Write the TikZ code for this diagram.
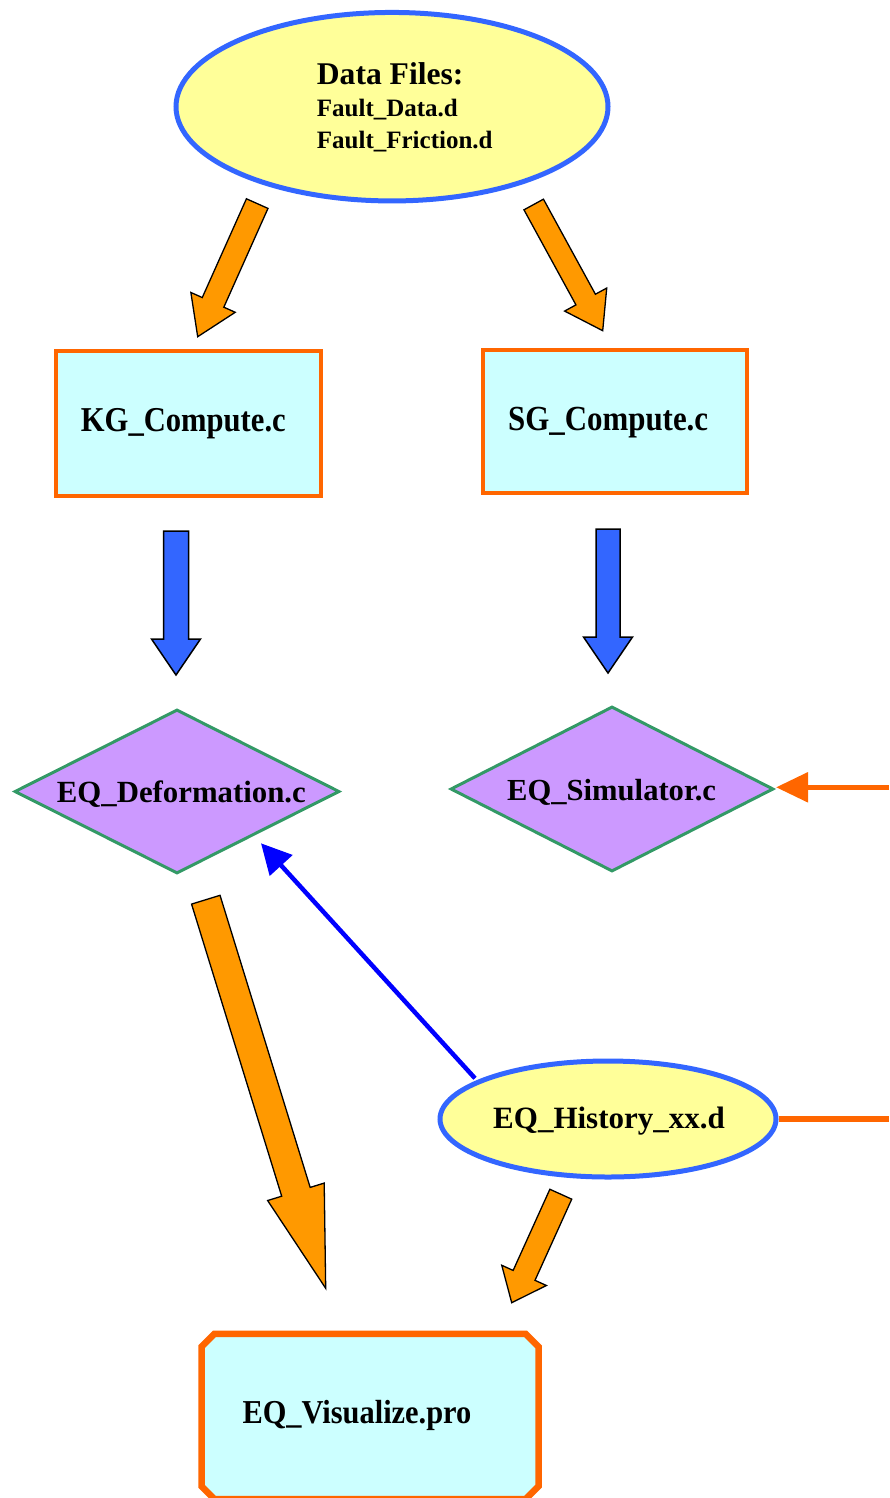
\documentclass[tikz,border=0pt]{standalone}
\usepackage{fontspec}
\setmainfont{Liberation Serif}
\usetikzlibrary{calc,shapes.geometric,arrows.meta}
\definecolor{ellfill}{HTML}{FFFF99}
\definecolor{ellline}{HTML}{3366FF}
\definecolor{boxfill}{HTML}{CCFFFF}
\definecolor{boxline}{HTML}{FF6600}
\definecolor{arrfill}{HTML}{FF9900}
\definecolor{diafill}{HTML}{CC99FF}
\definecolor{dialine}{HTML}{339966}
\definecolor{pureblue}{HTML}{0000FF}
\newcommand\blockarrow[6]{%
  \coordinate (ba-b) at ($(#2)!#5!(#1)$);
  \filldraw[#6] ($(#1)!#3!90:(#2)$) -- ($(ba-b)!#3!90:(#2)$) -- ($(ba-b)!#4!90:(#2)$) -- (#2)
     -- ($(ba-b)!#4!-90:(#2)$) -- ($(ba-b)!#3!-90:(#2)$) -- ($(#1)!#3!-90:(#2)$) -- cycle;}
\tikzset{
  ell/.style={ellipse, draw=ellline, fill=ellfill, line width=5pt, inner sep=0pt},
  pbox/.style={rectangle, draw=boxline, fill=boxfill, line width=4pt, inner sep=0pt},
  dia/.style={diamond, draw=dialine, fill=diafill, line width=3pt, inner sep=0pt},
  txt/.style={anchor=base west, inner sep=0pt, font=\bfseries},
  orarrow/.style={fill=arrfill, draw=black, line width=1.3pt, line join=miter},
  blarrow/.style={fill=ellline, draw=black, line width=1.5pt, line join=miter},
  orline/.style={draw=boxline, line width=5.5pt},
  chamf/.style={draw=boxline, fill=boxfill, line width=6.5pt, line join=miter},
}
\begin{document}
\begin{tikzpicture}[x=1pt,y=-1pt]
\useasboundingbox (0,0) rectangle (889,1498);
% shapes
\node[ell, minimum width=432pt, minimum height=188.5pt] (data) at (392,106.7) {};
\node[pbox, minimum width=265.3pt, minimum height=144.7pt] (kg) at (188.7,423.5) {};
\node[pbox, minimum width=264pt, minimum height=143pt] (sg) at (615,421.5) {};
\node[dia, minimum width=325pt, minimum height=164pt] (def) at (177,791.5) {};
\node[dia, minimum width=323pt, minimum height=165pt] (sim) at (612,789) {};
\node[ell, minimum width=336pt, minimum height=116pt] (hist) at (608,1119) {};
\node[rectangle, inner sep=0pt, minimum width=336.6pt, minimum height=165pt] (vis) at (370,1416.5) {};
\draw[chamf] ($(vis.north west)+(13,0)$) -- ($(vis.north east)+(-13,0)$) -- ($(vis.north east)+(0,13)$)
  -- ($(vis.south east)+(0,-13)$) -- ($(vis.south east)+(-13,0)$) -- ($(vis.south west)+(13,0)$)
  -- ($(vis.south west)+(0,-13)$) -- ($(vis.north west)+(0,13)$) -- cycle;
% texts
\node[txt, font=\fontsize{31.6}{36}\selectfont\bfseries] (t1) at (316.7,85) {Data Files:};
\node[txt, font=\fontsize{25}{30}\selectfont\bfseries] (t2) at (316.7,116.7) {Fault\_Data.d};
\node[txt, font=\fontsize{25}{30}\selectfont\bfseries] (t3) at (316.7,149) {Fault\_Friction.d};
\node[txt, font=\fontsize{30.6}{36}\selectfont\bfseries] (kgt) at (80.7,431.7) {\scalebox{1}[1.14]{KG\_Compute.c}};
\node[txt, font=\fontsize{30.9}{36}\selectfont\bfseries] (sgt) at (508,430.5) {\scalebox{1}[1.14]{SG\_Compute.c}};
\node[txt, font=\fontsize{30.8}{36}\selectfont\bfseries] (deft) at (56.7,802.7) {EQ\_Deformation.c};
\node[txt, font=\fontsize{30.6}{36}\selectfont\bfseries] (simt) at (507,800) {EQ\_Simulator.c};
\node[txt, font=\fontsize{31}{36}\selectfont\bfseries] (histt) at (493,1128) {EQ\_History\_xx.d};
\node[txt, font=\fontsize{30.4}{36}\selectfont\bfseries] (vist) at (242.3,1423.3) {\scalebox{1}[1.1]{EQ\_Visualize.pro}};
% block arrows
\coordinate (a1t) at (257.2,203.6); \coordinate (a1h) at (197.7,336.7);
\coordinate (a2t) at (533.7,204.5); \coordinate (a2h) at (602.7,330.7);
\coordinate (b1t) at (176,531);     \coordinate (b1h) at (176,675);
\coordinate (b2t) at (608,529);     \coordinate (b2h) at (608,673);
\coordinate (a3t) at (205.8,899.7); \coordinate (a3h) at (325.7,1288.3);
\coordinate (a4t) at (560.8,1194.2);\coordinate (a4h) at (511.7,1302.7);
\blockarrow{a1t}{a1h}{11.8pt}{24.3pt}{37.6pt}{orarrow}
\blockarrow{a2t}{a2h}{11.1pt}{24pt}{35.5pt}{orarrow}
\blockarrow{b1t}{b1h}{12.5pt}{24.5pt}{36pt}{blarrow}
\blockarrow{b2t}{b2h}{12pt}{24.5pt}{36pt}{blarrow}
\blockarrow{a3t}{a3h}{14.9pt}{29.6pt}{101pt}{orarrow}
\blockarrow{a4t}{a4h}{12pt}{24.5pt}{30pt}{orarrow}
% thin connectors
\coordinate (bt) at (475,1078.3);
\coordinate (bh) at (261,843.3);
\draw[pureblue, line width=4.5pt, -{Triangle[length=30pt,width=30pt]}] (bt) -- (bh);
\coordinate (ro1) at (889,787.3);
\coordinate (ro1h) at (776,787.3);
\draw[orline, -{Triangle[length=32pt,width=29pt]}] (ro1) -- (ro1h);
\coordinate (ro2) at (889,1119);
\draw[orline] (hist.east) -- (ro2);
\end{tikzpicture}
\end{document}
